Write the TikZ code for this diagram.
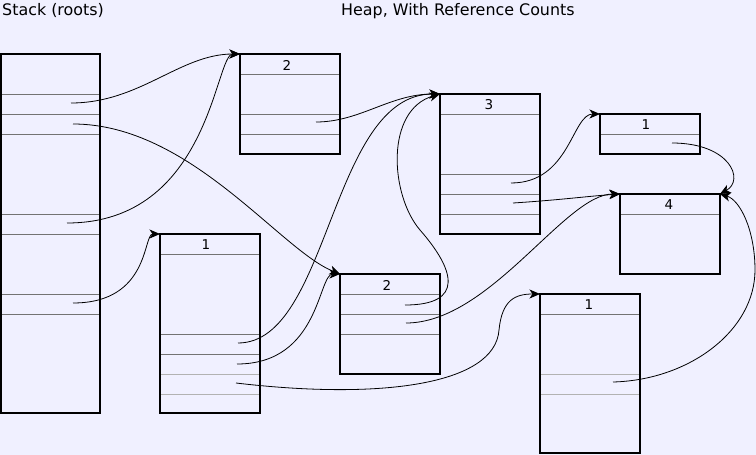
\documentclass[tikz,border=0pt]{standalone}
\usepackage{fontspec}
\setmainfont{DejaVu Sans}
\usetikzlibrary{arrows.meta}
\definecolor{bg}{RGB}{240,240,255}
\begin{document}
\begin{tikzpicture}[x=1pt,y=-1pt,
  obj/.style={draw=black,line width=2pt,rectangle,inner sep=0pt,outer sep=0pt,minimum width=100pt,anchor=north west},
  row/.style={draw=black!55,line width=1pt},
  lrow/.style={draw=black!30,line width=1pt},
  ptr/.style={draw=black,line width=0.8pt,-{Stealth[length=10.5pt,width=9pt,inset=3pt]}},
  cnt/.style={font=\fontsize{13.5}{14}\selectfont,inner sep=0pt},
  ttl/.style={font=\fontsize{15.9}{18}\selectfont,inner sep=0pt,anchor=base west}]
\fill[bg] (0,0) rectangle (756,455);
\useasboundingbox (0,0) rectangle (756,455);

% titles
\node[ttl] (tstack) at (2,15.5) {Stack (roots)};
\node[ttl] (theap) at (341,15.5) {Heap, With Reference Counts};

% row separators
\foreach \y in {94,114,134,214,234,294,314} \draw[row] (1,\y) -- (100,\y);
\foreach \y in {74,114,134} \draw[row] (240,\y) -- (340,\y);
\foreach \y in {114,174,194,214} \draw[row] (440,\y) -- (540,\y);
\draw[row] (600,134) -- (700,134);
\draw[row] (620,214) -- (720,214);
\foreach \y in {254,334,354} \draw[row] (160,\y) -- (260,\y);
\foreach \y in {374,394} \draw[lrow] (160,\y) -- (260,\y);
\foreach \y in {294,314,334} \draw[row] (340,\y) -- (440,\y);
\draw[row] (540,314) -- (640,314);
\foreach \y in {374,394} \draw[lrow] (540,\y) -- (640,\y);

% boxes
\node[obj,minimum width=99pt,minimum height=359pt] (stack) at (1,54) {};
\node[obj,minimum height=100pt] (a2) at (240,54) {};
\node[obj,minimum height=140pt] (b3) at (440,94) {};
\node[obj,minimum height=40pt] (s1) at (600,114) {};
\node[obj,minimum height=80pt] (b4) at (620,194) {};
\node[obj,minimum height=179pt] (c1) at (160,234) {};
\node[obj,minimum height=100pt] (b2) at (340,274) {};
\node[obj,minimum height=159pt] (d1) at (540,294) {};

% counts
\node[cnt] (na2) at (287,65) {2};
\node[cnt] (nb3) at (489,105) {3};
\node[cnt] (ns1) at (646,125) {1};
\node[cnt] (nb4) at (669,205) {4};
\node[cnt] (nc1) at (206,245) {1};
\node[cnt] (nb2) at (387,285) {2};
\node[cnt] (nd1) at (589,305) {1};

% pointer origins
\coordinate (r1) at (71,103);
\coordinate (r2) at (73,124);
\coordinate (r3) at (67,223);
\coordinate (r4) at (73,303);
\coordinate (fa2) at (316,122);
\coordinate (fc1a) at (238,343);
\coordinate (fc1b) at (237,364);
\coordinate (fc1c) at (236,383);
\coordinate (fb2a) at (405,305);
\coordinate (fb2b) at (406,323);
\coordinate (fb3a) at (511,183);
\coordinate (fb3b) at (513,203);
\coordinate (fs1) at (672,143);
\coordinate (fd1) at (613,382);

% pointers
\draw[ptr] (r1) .. controls (140,103) and (180,54) .. (a2.north west);
\draw[ptr] (r2) .. controls (190,124) and (280,250) .. (b2.north west);
\draw[ptr] (r3) .. controls (210,223) and (215,54) .. (a2.north west);
\draw[ptr] (r4) .. controls (150,303) and (143,234) .. (c1.north west);
\draw[ptr] (fa2) .. controls (360,122) and (390,94) .. (b3.north west);
\draw[ptr] (fc1a) .. controls (330,343) and (330,94) .. (b3.north west);
\draw[ptr] (fc1b) .. controls (320,364) and (318,274) .. (b2.north west);
\draw[ptr] (fc1c) .. controls (380,400) and (495,385) .. (499,330)
                  .. controls (502,300) and (515,294) .. (d1.north west);
\draw[ptr] (fb2a) .. controls (465,305) and (455,270) .. (420,230)
                  .. controls (390,195) and (385,110) .. (b3.north west);
\draw[ptr] (fb2b) .. controls (490,323) and (565,194) .. (b4.north west);
\draw[ptr] (fb3a) .. controls (570,183) and (572,114) .. (s1.north west);
\draw[ptr] (fb3b) .. controls (560,200) and (590,196) .. (b4.north west);
\draw[ptr] (fs1) .. controls (730,143) and (745,180) .. (b4.north east);
\draw[ptr] (fd1) .. controls (690,380) and (755,330) .. (755,270)
                 .. controls (755,230) and (740,200) .. (b4.north east);
\end{tikzpicture}
\end{document}
